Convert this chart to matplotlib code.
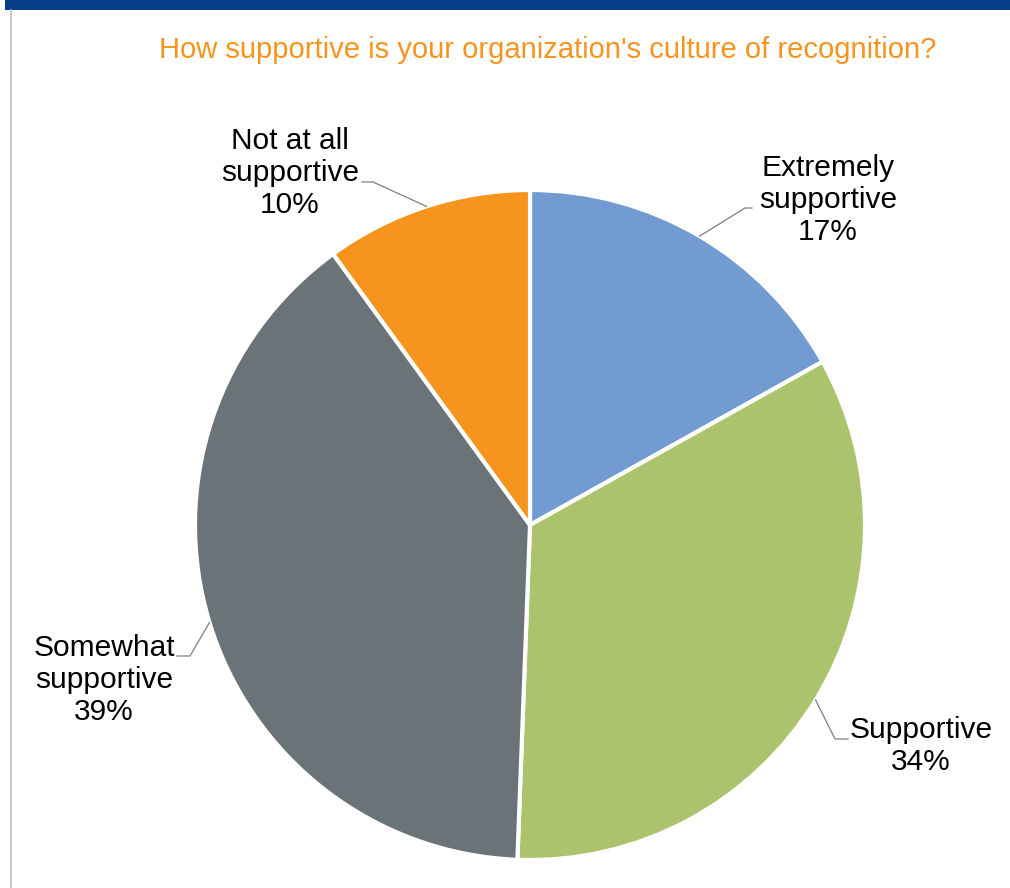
import numpy as np
import matplotlib.pyplot as plt
from matplotlib.patches import Rectangle

TITLE = "How supportive is your organization's culture of recognition?"
CATEGORIES = ["Extremely\nsupportive", "Supportive", "Somewhat\nsupportive", "Not at all\nsupportive"]
SHARES = [16.9, 33.7, 39.4, 10.0]
COLORS = ["#729BD2", "#ABC36D", "#6A7378", "#F7941E"]

W, H = 1010, 888
CX, CY, R = 530, H - 525, 335

# label centre and leader elbow/end, in pixel offsets (layout only)
LABEL_POS = [(828, 200), (921, 746), (104, 680), (290, 173)]
ELBOWS = [((745, 208), (752, 208)), ((835, 739), (848, 739)),
          ((190, 656), (177, 656)), ((373, 182), (362, 182))]

plt.rcParams["font.family"] = ["Liberation Sans", "DejaVu Sans"]

fig = plt.figure(figsize=(W / 100, H / 100), dpi=100)
ax = fig.add_axes([0, 0, 1, 1])
ax.set_xlim(0, W)
ax.set_ylim(0, H)
ax.set_aspect("equal")
ax.axis("off")

# frame: blue top band and grey left border
ax.add_patch(Rectangle((5, H - 10), W - 5, 10, color="#073E87", lw=0))
ax.plot([10.5, 10.5], [0, H - 10], color="#BFBFBF", lw=1.2)

wedges, _ = ax.pie(SHARES, colors=COLORS, startangle=90, counterclock=False,
                   center=(CX, CY), radius=R,
                   wedgeprops=dict(edgecolor="white", linewidth=3))
ax.set_xlim(0, W)
ax.set_ylim(0, H)

for w, lab, val, (lx, ly), (e1, e2) in zip(wedges, CATEGORIES, SHARES, LABEL_POS, ELBOWS):
    mid = np.deg2rad((w.theta1 + w.theta2) / 2)
    px, py = CX + R * np.cos(mid), CY + R * np.sin(mid)
    ax.plot([px, e1[0], e2[0]], [py, H - e1[1], H - e2[1]], color="#7F7F7F", lw=0.9)
    ax.text(lx, H - ly, f"{lab}\n{val:.0f}%", ha="center", va="center",
            fontsize=21.5, linespacing=1.2, color="black")

ax.text(548, H - 50, TITLE, ha="center", va="center", fontsize=21, color="#F7941E")

fig.savefig("out.png", dpi=100)
